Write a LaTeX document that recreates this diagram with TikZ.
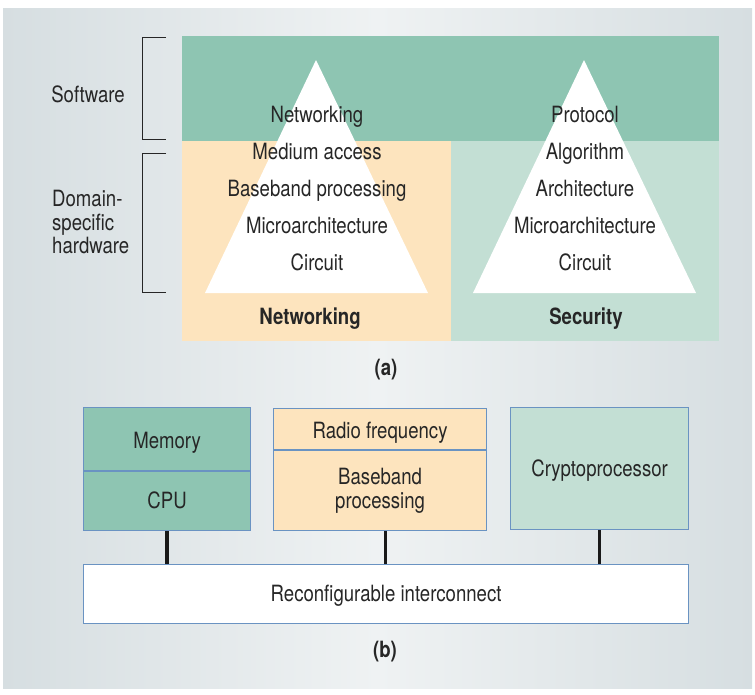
\documentclass[tikz,border=0pt]{standalone}
\usepackage{fontspec}
\setmainfont{TeX Gyre Heros}[FakeStretch=0.83]
\usepackage{tikz}
\usetikzlibrary{positioning}

\definecolor{swgreen}{HTML}{8EC5B2}
\definecolor{netorange}{HTML}{FDE4BE}
\definecolor{secgreen}{HTML}{C3DFD4}
\definecolor{boxline}{HTML}{6A93C2}
\definecolor{bgdark}{HTML}{D6DEE1}
\definecolor{bglight}{HTML}{EFF2F3}
\definecolor{txt}{HTML}{262626}

\tikzset{
  lbl/.style={text=txt, font=\fontsize{22.4}{23.5}\selectfont, inner sep=0pt},
  bold/.style={lbl, font=\fontsize{22.4}{23.5}\selectfont\bfseries},
  blk/.style={lbl, draw=boxline, line width=1.2pt, align=center, anchor=north west},
  oneline/.style={text height=20pt, text depth=1pt},
  lowline/.style={text height=17pt, text depth=2pt},
  bus/.style={line width=3.4pt, black!90},
  brk/.style={line width=0.9pt, txt},
}

\begin{document}
\begin{tikzpicture}[x=1pt, y=-1pt]
  \useasboundingbox (0,0) rectangle (755,694);
  \shade[left color=bgdark, right color=bgdark, middle color=bglight] (3,8) rectangle (752,688);

  % (a) layers
  \fill[swgreen] (182,36) rectangle (719,141);
  \fill[netorange] (182,141) rectangle (451,341);
  \fill[secgreen] (451,141) rectangle (719,341);
  \coordinate (NA) at (316,60);
  \coordinate (NB) at (205,293);
  \coordinate (NC) at (428,293);
  \coordinate (SA) at (584,60);
  \coordinate (SB) at (473,293);
  \coordinate (SC) at (696,293);
  \fill[white] (NA) -- (NB) -- (NC) -- cycle;
  \fill[white] (SA) -- (SB) -- (SC) -- cycle;
  \foreach \t [count=\i] in {Networking, Medium access, Baseband processing, Microarchitecture, Circuit}
    \node[lbl, anchor=base] (net\i) at (317,85+37*\i) {\t};
  \foreach \t [count=\i] in {Protocol, Algorithm, Architecture, Microarchitecture, Circuit}
    \node[lbl, anchor=base] (sec\i) at (585,85+37*\i) {\t};
  \node[bold, anchor=base] (netname) at (310,324) {Networking};
  \node[bold, anchor=base] (secname) at (586,324) {Security};

  % brackets
  \draw[brk] (166,37.5) -| (142,139.5) -- (166,139.5);
  \draw[brk] (166,153) -| (142,292.5) -- (166,292.5);
  \node[lbl, anchor=base] (sw) at (88,102) {Software};
  \node[lbl, anchor=west, align=left] (hw) at (52,222) {Domain-\\specific\\hardware};
  \node[bold, anchor=base] (capa) at (386,375) {(a)};

  % (b) platform
  \node[blk, oneline, fill=swgreen, minimum width=167pt, minimum height=63pt] (mem) at (83,407) {Memory};
  \node[blk, lowline, fill=swgreen, minimum width=167pt, minimum height=59pt] (cpu) at (mem.south west) {CPU};
  \node[blk, oneline, fill=netorange, minimum width=213pt, minimum height=41pt] (rf) at (273,408) {Radio frequency};
  \node[blk, fill=netorange, minimum width=213pt, minimum height=80pt] (bb) at (rf.south west) {Baseband\\processing};
  \node[blk, lowline, fill=secgreen, minimum width=178pt, minimum height=122pt] (crypto) at (510,407) {Cryptoprocessor};
  \node[blk, lowline, fill=white, minimum width=605pt, minimum height=59pt] (ic) at (83,564) {Reconfigurable interconnect};
  \draw[bus] (cpu.south) -- (cpu.south |- ic.north);
  \draw[bus] ([xshift=5.5pt]bb.south) -- ([xshift=5.5pt]bb.south |- ic.north);
  \draw[bus] (crypto.south) -- (crypto.south |- ic.north);
  \node[bold, anchor=base] (capb) at (385,657) {(b)};
\end{tikzpicture}
\end{document}
